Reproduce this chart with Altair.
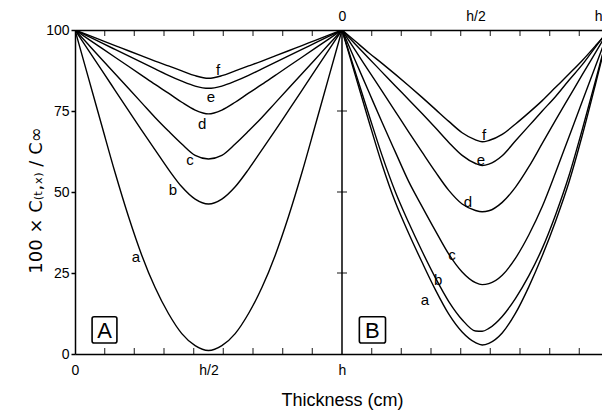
import altair as alt
import pandas as pd

# ---------------- data ----------------
LETTERS = ["a", "b", "c", "d", "e", "f"]

# Panel A : position across thickness (fraction of h)
U_A = [0.0, 0.05, 0.1, 0.15, 0.2, 0.25, 0.3, 0.35, 0.4, 0.45, 0.5,
       0.55, 0.6, 0.65, 0.7, 0.75, 0.8, 0.85, 0.9, 0.95, 1.0]
A_a = [100, 85.3, 70.6, 56, 42.5, 30.5, 20.5, 12.5, 6.3, 2.6, 1.1,
       2.6, 6.3, 12.5, 20.5, 30.5, 42.5, 56, 70.6, 85.3, 100]
A_b = [100, 93.8, 87.6, 81.4, 75.2, 69, 63, 57, 51.6, 47.8, 46.3,
       47.8, 51.6, 57, 63, 69, 75.2, 81.4, 87.6, 93.8, 100]
A_c = [100, 95.5, 91, 86.5, 82, 77.5, 73, 68.8, 64.8, 61.3, 60.2,
       61.3, 64.8, 68.8, 73, 77.5, 82, 86.5, 91, 95.5, 100]
A_d = [100, 97.2, 94.4, 91.6, 88.8, 86, 83.2, 80.5, 77.7, 75.3, 74.1,
       75.3, 77.7, 80.5, 83.2, 86, 88.8, 91.6, 94.4, 97.2, 100]
A_e = [100, 98, 96, 94, 92, 90, 88, 86, 84.2, 82.7, 82,
       82.7, 84.2, 86, 88, 90, 92, 94, 96, 98, 100]
A_f = [100, 98.4, 96.8, 95.2, 93.6, 92, 90.4, 88.9, 87.4, 85.9, 85.1,
       85.9, 87.4, 88.9, 90.4, 92, 93.6, 95.2, 96.8, 98.4, 100]

# Panel B
U_B = [0.0, 0.05, 0.1, 0.15, 0.2, 0.25, 0.3, 0.35, 0.4, 0.45, 0.5, 0.525,
       0.55, 0.6, 0.65, 0.7, 0.75, 0.8, 0.85, 0.9, 0.95, 1.0]
B_a = [100, 86, 72, 58.5, 46.8, 37.2, 28.3, 19.8, 12.3, 6.8, 3.5, 2.8,
       3.3, 6.5, 12.6, 20.8, 30.3, 41, 53, 67.5, 83.5, 100]
B_b = [100, 87, 74, 61.3, 50, 40.5, 31.7, 23.5, 16.2, 10.6, 7.1, 7.0,
       7.9, 11.6, 17.2, 24.2, 32.6, 43, 55, 69.3, 84.5, 100]
B_c = [100, 90.5, 81, 71.5, 62.3, 53.2, 45.5, 38, 30.8, 25.3, 22.0, 21.4,
       21.7, 24.3, 29.6, 36.8, 45.5, 56, 67, 78, 89, 100]
B_d = [100, 93.7, 87.4, 81.1, 74.8, 68.5, 62.3, 56.2, 50.5, 46.3, 44.3, 43.9,
       44.2, 46.8, 51.5, 57.8, 65, 72.2, 79.2, 86.2, 93.1, 100]
B_e = [100, 95.6, 91.3, 87, 82.7, 78.5, 74.2, 69.8, 65.3, 61.3, 58.8, 58.2,
       58.6, 61.2, 65.8, 70.4, 75, 79.5, 84.5, 89.3, 94.8, 100]
B_f = [100, 96.5, 93, 89.7, 86.3, 82.8, 79.2, 75.5, 71.8, 68.3, 66.1, 65.5,
       65.9, 67.8, 71, 74.5, 78.2, 82.3, 86.4, 90.6, 95.2, 100]

PANEL_A = [A_a, A_b, A_c, A_d, A_e, A_f]
PANEL_B = [B_a, B_b, B_c, B_d, B_e, B_f]

# curve letter labels (position in the two-panel thickness coordinate, value)
LABEL_TEXT = LETTERS + LETTERS
LABEL_X = [0.228, 0.367, 0.431, 0.476, 0.509, 0.536,
           1.311, 1.360, 1.412, 1.472, 1.520, 1.532]
LABEL_Y = [29.9, 50.6, 59.9, 71.0, 79.3, 87.7,
           16.7, 22.8, 30.6, 46.9, 59.9, 67.6]

# panel boxes
BOX_TEXT = ["A", "B"]
BOX_X1 = [0.064, 1.065]
BOX_X2 = [0.157, 1.163]
BOX_Y1 = [3.4, 3.4]
BOX_Y2 = [11.5, 11.5]

# axis furniture
Y_TICKS = [0, 25, 50, 75, 100]
NINTHS = [1, 2, 3, 4, 5, 6, 7, 8, 10, 11, 12, 13, 14, 15, 16, 17]
BOTTOM_LABEL_VALUES = [0, 0.5, 1]
DIVIDERS = [1.0]
INNER_TICKS = [25, 50, 75]

# the original figure is cut at the right edge just before x = 2h
X_MAX = 1.9738
TOP_LABEL_VALUES = [1, 1.5, X_MAX]

# ---------------- tables ----------------
rows = []
for letter, vals in zip(LETTERS, PANEL_A):
    for u, v in zip(U_A, vals):
        rows.append({"series": "A" + letter, "x": u, "y": v})
for letter, vals in zip(LETTERS, PANEL_B):
    for u, v in zip(U_B, vals):
        rows.append({"series": "B" + letter, "x": 1.0 + u, "y": v})
curves = pd.DataFrame(rows)

labels = pd.DataFrame({"t": LABEL_TEXT, "x": LABEL_X, "y": LABEL_Y})
boxes = pd.DataFrame({"t": BOX_TEXT, "x1": BOX_X1, "x2": BOX_X2,
                      "y1": BOX_Y1, "y2": BOX_Y2})
boxes["xm"] = (boxes["x1"] + boxes["x2"]) / 2
boxes["ym"] = (boxes["y1"] + boxes["y2"]) / 2
ticks = pd.DataFrame({"x": [k / 9 for k in NINTHS]})
ticks["y0"] = 0
ticks["y1"] = 100
dividers = pd.DataFrame({"x": DIVIDERS, "y0": [0], "y1": [100]})
inner = pd.DataFrame({"y": INNER_TICKS})
inner["x1"] = 1.0

XS = alt.Scale(domain=[0, X_MAX], nice=False, zero=False)
YS = alt.Scale(domain=[0, 100], nice=False, zero=False)
LABEL_FONT = "Liberation Sans"

label_expr_bottom = "datum.value == 0 ? '0' : (datum.value == 0.5 ? 'h/2' : 'h')"
label_expr_top = "datum.value == 1 ? '0' : (datum.value == 1.5 ? 'h/2' : 'h')"

lines = alt.Chart(curves).mark_line(
    color="black", strokeWidth=1.4, interpolate="monotone", clip=True
).encode(
    x=alt.X("x:Q", scale=XS, axis=alt.Axis(
        orient="bottom", values=BOTTOM_LABEL_VALUES, labelExpr=label_expr_bottom,
        ticks=False, tickSize=0, grid=False, domain=True, domainColor="black",
        domainWidth=1.5, labelFont=LABEL_FONT, labelFontSize=14,
        labelColor="black", labelPadding=9, labelFlush=False,
        title="Thickness (cm)", titleFont=LABEL_FONT, titleFontSize=18,
        titleFontWeight="normal", titleColor="black", titleX=267, titleY=51,
        titleBaseline="alphabetic")),
    y=alt.Y("y:Q", scale=YS, axis=alt.Axis(
        orient="left", values=Y_TICKS, grid=False, domain=True,
        domainColor="black", domainWidth=1.5, tickColor="black", tickSize=4,
        tickWidth=1.5, labelFont=LABEL_FONT, labelFontSize=14,
        labelColor="black", labelPadding=2, labelFlush=False,
        title="100 × C₍ₜ,ₓ₎ / C∞", titleFont="DejaVu Sans", titleFontSize=18,
        titleFontWeight="normal", titleColor="black", titleX=-39, titleY=170,
        titleAlign="center", titleBaseline="middle")),
    detail="series:N",
)

rules = alt.Chart(dividers).mark_rule(color="black", strokeWidth=1.5).encode(
    x=alt.X("x:Q", scale=XS, axis=alt.Axis(
        orient="top", values=TOP_LABEL_VALUES, labelExpr=label_expr_top,
        ticks=False, tickSize=0, grid=False, domain=True, domainColor="black",
        domainWidth=1.5, labelFont=LABEL_FONT, labelFontSize=14,
        labelColor="black", labelPadding=7, labelFlush=True, title=None)),
    y=alt.Y("y0:Q", scale=YS, axis=None),
    y2="y1:Q",
)

bottom_ticks = alt.Chart(ticks).mark_tick(
    color="black", orient="vertical", size=6, thickness=1.3, yOffset=-3
).encode(x=alt.X("x:Q", scale=XS, axis=None), y=alt.Y("y0:Q", scale=YS, axis=None))

top_ticks = alt.Chart(ticks).mark_tick(
    color="black", orient="vertical", size=6, thickness=1.3, yOffset=3
).encode(x=alt.X("x:Q", scale=XS, axis=None), y=alt.Y("y1:Q", scale=YS, axis=None))

mid_ticks = alt.Chart(inner).mark_tick(
    color="black", orient="horizontal", size=10, thickness=1.3
).encode(x=alt.X("x1:Q", scale=XS, axis=None), y=alt.Y("y:Q", scale=YS, axis=None))

curve_labels = alt.Chart(labels).mark_text(
    font=LABEL_FONT, fontSize=15, color="black", align="center", baseline="middle"
).encode(x=alt.X("x:Q", scale=XS, axis=None),
         y=alt.Y("y:Q", scale=YS, axis=None), text="t:N")

box_rects = alt.Chart(boxes).mark_rect(
    filled=False, stroke="black", strokeWidth=1.6, cornerRadius=2
).encode(x=alt.X("x1:Q", scale=XS, axis=None), x2="x2:Q",
         y=alt.Y("y1:Q", scale=YS, axis=None), y2="y2:Q")

box_text = alt.Chart(boxes).mark_text(
    font=LABEL_FONT, fontSize=22, color="black", align="center", baseline="middle", dy=1
).encode(x=alt.X("xm:Q", scale=XS, axis=None),
         y=alt.Y("ym:Q", scale=YS, axis=None), text="t:N")

chart = alt.layer(
    lines, rules, bottom_ticks, top_ticks, mid_ticks,
    curve_labels, box_rects, box_text
).resolve_axis(x="independent", y="independent").properties(
    width=527, height=324,
    padding={"left": 67, "top": 22, "right": 0, "bottom": 56},
    autosize=alt.AutoSizeParams(type="none"),
    background="white",
).configure_view(stroke=None)

chart.save("out.html", embed_options={"renderer": "svg", "actions": False})
